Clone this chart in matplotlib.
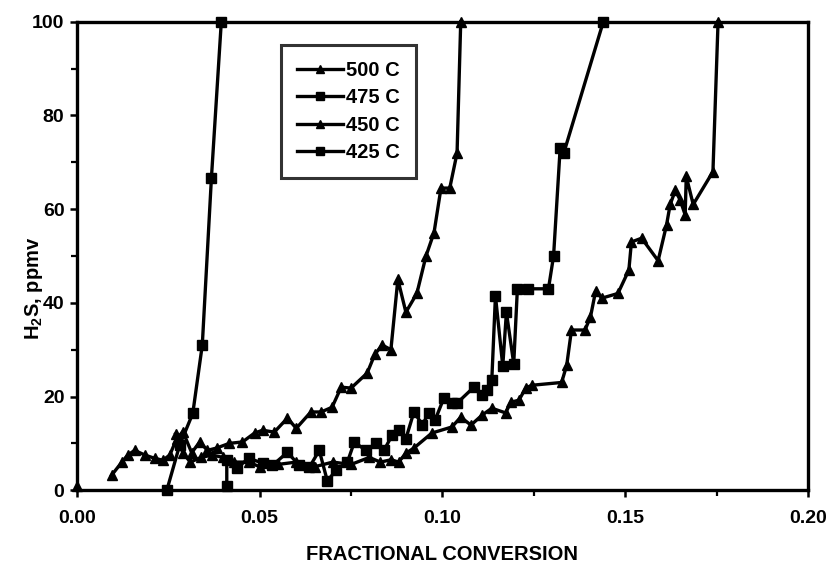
import numpy as np
import matplotlib
matplotlib.use("Agg")
import matplotlib.pyplot as plt
from matplotlib.ticker import MultipleLocator, FormatStrFormatter

plt.rcParams['font.family'] = ['Liberation Sans', 'DejaVu Sans']
plt.rcParams['font.weight'] = 'bold'
plt.rcParams['mathtext.fontset'] = 'custom'
plt.rcParams['mathtext.rm'] = 'Liberation Sans:bold'
plt.rcParams['mathtext.bf'] = 'Liberation Sans:bold'

# Breakthrough data: fractional conversion vs outlet H2S (ppmv)
x_500 = [0.0095, 0.0123, 0.0139, 0.0158, 0.0186, 0.0213, 0.0235, 0.0254, 0.0273, 0.0290,
         0.0314, 0.0336, 0.0357, 0.0382, 0.0417, 0.0453, 0.0486, 0.0508, 0.0540, 0.0576,
         0.0600, 0.0640, 0.0668, 0.0698, 0.0723, 0.0750, 0.0794, 0.0815, 0.0835, 0.0859,
         0.0878, 0.0900, 0.0930, 0.0955, 0.0977, 0.0996, 0.1020, 0.1040, 0.1050]
y_500 = [3.2, 6.0, 7.5, 8.5, 7.5, 6.8, 6.4, 7.5, 11.0, 12.5,
         8.0, 10.3, 8.5, 9.0, 10.0, 10.3, 12.2, 12.8, 12.4, 15.4,
         13.2, 16.7, 16.7, 17.7, 22.0, 21.8, 25.0, 29.0, 31.0, 30.0,
         45.0, 38.0, 42.0, 50.0, 55.0, 64.5, 64.5, 72.0, 100.0]

x_475 = [0.0246, 0.0281, 0.0317, 0.0343, 0.0368, 0.0395]
y_475 = [0.0, 9.6, 16.4, 31.0, 66.7, 100.0]

x_450 = [0.0000, np.nan,
         0.0270, 0.0290, 0.0310, 0.0340, 0.0370, 0.0400, 0.0430, 0.0470, 0.0500, 0.0550,
         0.0600, 0.0650, 0.0700, 0.0750, 0.0800, 0.0830, 0.0860, 0.0880, 0.0900, 0.0922,
         0.0971, 0.1026, 0.1050, 0.1078, 0.1108, 0.1135, 0.1173, 0.1187, 0.1209, 0.1228,
         0.1244, 0.1326, 0.1340, 0.1353, 0.1390, 0.1405, 0.1419, 0.1436, 0.1480, 0.1510,
         0.1517, 0.1545, 0.1590, 0.1613, 0.1623, 0.1637, 0.1650, 0.1664, 0.1667, 0.1686,
         0.1740, 0.1754]
y_450 = [1.0, np.nan,
         12.0, 8.0, 6.0, 7.0, 7.5, 7.0, 6.0, 6.0, 5.0, 5.5,
         6.0, 5.0, 6.0, 5.5, 7.0, 6.0, 6.5, 6.0, 7.9, 9.0,
         12.2, 13.5, 15.6, 13.9, 16.0, 17.5, 16.5, 18.8, 19.2, 21.8,
         22.4, 23.0, 26.7, 34.2, 34.2, 37.0, 42.5, 41.0, 42.0, 47.0,
         53.0, 53.8, 49.0, 56.6, 61.0, 64.0, 62.0, 58.8, 67.0, 61.0,
         68.0, 100.0]

x_425 = [0.0410, 0.0410, 0.0437, 0.0470, 0.0508, 0.0535, 0.0576, 0.0608, 0.0636, 0.0663,
         0.0685, 0.0710, 0.0740, 0.0759, 0.0790, 0.0819, 0.0840, 0.0862, 0.0881, 0.0900,
         0.0922, 0.0945, 0.0963, 0.0980, 0.1004, 0.1026, 0.1040, 0.1086, 0.1108, 0.1121,
         0.1135, 0.1145, 0.1165, 0.1175, 0.1195, 0.1205, 0.1235, 0.1290, 0.1304, 0.1322,
         0.1332, 0.1440]
y_425 = [1.0, 6.4, 4.7, 6.8, 5.8, 5.3, 8.1, 5.3, 4.9, 8.5,
         2.0, 4.3, 6.0, 10.3, 8.5, 10.0, 8.5, 11.7, 12.8, 11.0,
         16.7, 14.0, 16.5, 15.0, 19.7, 18.6, 18.6, 22.0, 20.3, 21.4,
         23.5, 41.5, 26.5, 38.0, 27.0, 43.0, 43.0, 43.0, 50.0, 73.0,
         72.0, 100.0]

series = [
    ("500 C", x_500, y_500, "^"),
    ("475 C", x_475, y_475, "s"),
    ("450 C", x_450, y_450, "^"),
    ("425 C", x_425, y_425, "s"),
]

fig = plt.figure(figsize=(8.27, 5.74), dpi=100)
ax = fig.add_axes([0.093, 0.146, 0.884, 0.816])

for label, xs, ys, mk in series:
    ax.plot(xs, ys, color='black', linewidth=2.4, marker=mk, markersize=7,
            markerfacecolor='black', markeredgecolor='black', label=label,
            clip_on=False)

ax.set_xlim(0.0, 0.20)
ax.set_ylim(0, 100)
ax.xaxis.set_major_locator(MultipleLocator(0.05))
ax.xaxis.set_minor_locator(MultipleLocator(0.025))
ax.xaxis.set_major_formatter(FormatStrFormatter('%.2f'))
ax.yaxis.set_major_locator(MultipleLocator(20))
ax.yaxis.set_minor_locator(MultipleLocator(10))

for s in ax.spines.values():
    s.set_linewidth(2.4)

ax.tick_params(axis='both', which='major', direction='out', length=5, width=1.8,
               labelsize=14, pad=4)
ax.tick_params(axis='both', which='minor', direction='out', length=4, width=1.6)
ax.tick_params(axis='x', which='major', pad=9)
for t in ax.get_xticklabels() + ax.get_yticklabels():
    t.set_fontweight('bold')

ax.set_xlabel('FRACTIONAL CONVERSION', fontsize=14.5, fontweight='bold', labelpad=13)
ax.set_ylabel(r'H$_{2}$S, ppmv', fontsize=14.5, fontweight='bold')
ax.yaxis.set_label_coords(-0.044, 0.43)

leg = ax.legend(loc='upper left', bbox_to_anchor=(0.279, 0.951), borderaxespad=0,
                frameon=True, fancybox=False, edgecolor='black', fontsize=14.5,
                handlelength=2.3, handletextpad=0.15, labelspacing=0.42,
                borderpad=0.8, markerscale=0.85)
leg.get_frame().set_linewidth(2.2)
for t in leg.get_texts():
    t.set_fontweight('bold')

fig.savefig('out.png', dpi=100, facecolor='white')
